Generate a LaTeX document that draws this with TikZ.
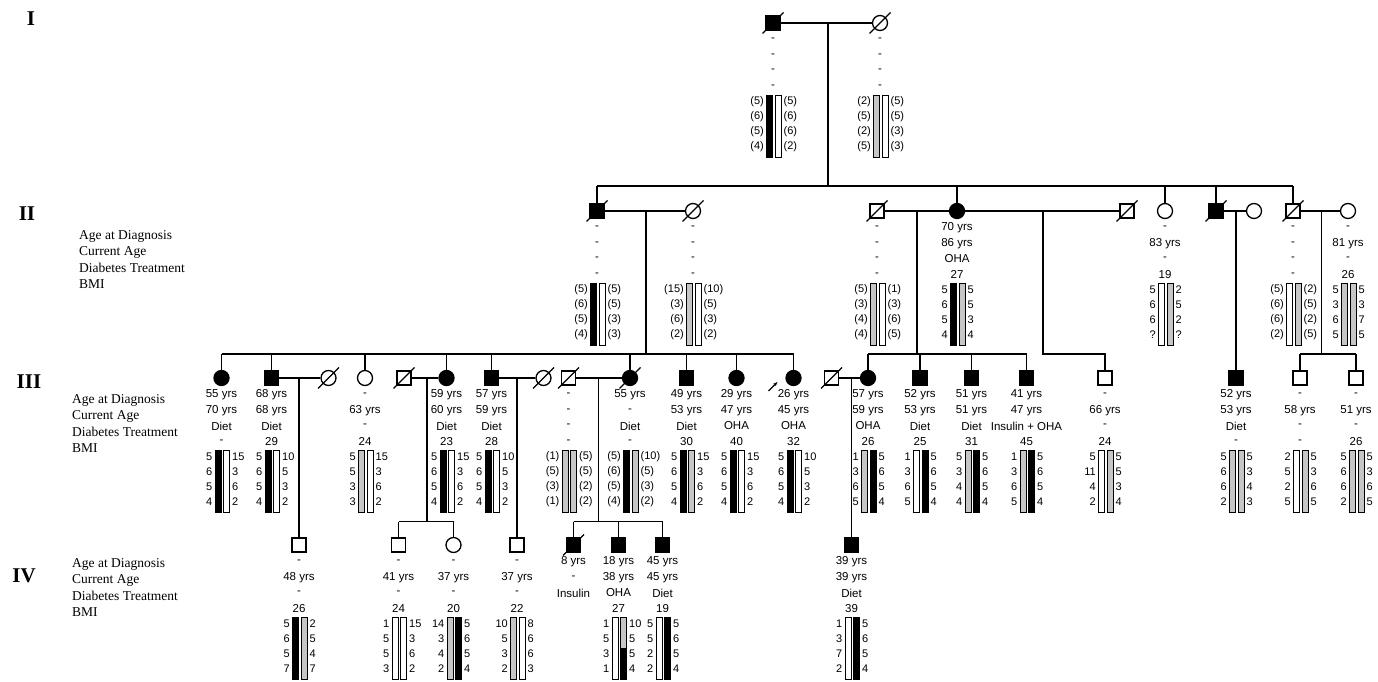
\documentclass[tikz,border=0pt]{standalone}
\usepackage{fontspec}
\setmainfont{Liberation Serif}
\newfontfamily\datafont{Liberation Sans}
\usetikzlibrary{arrows.meta}
\colorlet{hatch}{gray!45}
\tikzset{
  male/.style={draw, rectangle, minimum size=14pt, inner sep=0pt, line width=1.3pt},
  female/.style={draw, circle, minimum size=15pt, inner sep=0pt, line width=1.3pt},
  aff/.style={fill=black},
  dat/.style={font=\datafont\fontsize{11.5}{13}\selectfont, inner sep=0pt},
  num/.style={font=\datafont\fontsize{11}{13}\selectfont, inner sep=0pt},
  bar/.style={draw, line width=0.9pt},
  lab/.style={font=\fontsize{13.5}{15}\selectfont, anchor=west, inner sep=0pt},
  gen/.style={font=\bfseries\fontsize{21}{24}\selectfont, inner sep=0pt},
  link/.style={line width=1.4pt}
}
% slash through a deceased person
\newcommand{\dead}[1]{\draw[line width=1.2pt] ([shift={(-10.5,10.5)}]#1.center) -- ([shift={(10.5,-10.5)}]#1.center);}
% four lines under a symbol
\newcommand{\info}[2]{\foreach \entry [count=\k] in {#2}
  \node[dat] (#1-t\k) at ([shift={(0,{1.5+15.5*\k})}]#1.center) {\entry};}
% pair of haplotype bars with marker values
\newcommand{\hap}[5]{%
  \draw[bar, fill=#2] ([shift={(-6.5,72)}]#1.center) rectangle ([shift={(-0.5,134)}]#1.center);
  \draw[bar, fill=#3] ([shift={(2,72)}]#1.center) rectangle ([shift={(8,134)}]#1.center);
  \foreach \val [count=\k from 0] in {#4}
    \node[num, anchor=east] (#1-l\k) at ([shift={(-9,{79+15*\k})}]#1.center) {\val};
  \foreach \val [count=\k from 0] in {#5}
    \node[num, anchor=west] (#1-r\k) at ([shift={(10.5,{79+15*\k})}]#1.center) {\val};
}

\begin{document}
\begin{tikzpicture}[x=1pt, y=-1pt]
  \useasboundingbox (0,0) rectangle (1378,682);

  % generation labels
  \node[gen] (gI) at (31,19) {I};
  \node[gen] (gII) at (27,214) {II};
  \node[gen] (gIII) at (29,382) {III};
  \node[gen] (gIV) at (24,576) {IV};
  \foreach \g/\x/\y in {II/79/236, III/72/400, IV/72/564} {
    \foreach \s [count=\k from 0] in {Age at Diagnosis, Current Age, Diabetes Treatment, BMI}
      \node[lab] (lab\g\k) at (\x,{\y+16*\k}) {\s};
  }

  % levels of the sibship lines
  \coordinate (sII) at (0,186);
  \coordinate (sIII) at (0,354);
  \coordinate (sIV) at (0,521.5);

  % I
  \node[male, aff] (I1) at (773,23) {};
  \node[female] (I2) at (880,23) {};
  \coordinate (mI) at (828,23);

  % II
  \node[male, aff] (II1) at (597,211) {};
  \node[female] (II2) at (693,211) {};
  \node[male] (II3) at (877,211) {};
  \node[female, aff] (II4) at (957,211) {};
  \node[male] (II5) at (1127,211) {};
  \node[female] (II6) at (1165,211) {};
  \node[male, aff] (II7) at (1216,211) {};
  \node[female] (II8) at (1254,211) {};
  \node[male] (II9) at (1293,211) {};
  \node[female] (II10) at (1348,211) {};
  \coordinate (mII1) at (646,211);
  \coordinate (mII3) at (917,211);
  \coordinate (mII4) at (1043,211);
  \coordinate (mII7) at (1236,211);
  \coordinate (mII9) at (1321.5,211);

  % III
  \node[female, aff] (III1) at (221.5,378) {};
  \node[male, aff] (III2) at (271.5,378) {};
  \node[female] (III3) at (328.5,378) {};
  \node[female] (III4) at (365,378) {};
  \node[male] (III5) at (404,378) {};
  \node[female, aff] (III6) at (446.5,378) {};
  \node[male, aff] (III7) at (491.5,378) {};
  \node[female] (III8) at (543.5,378) {};
  \node[male] (III9) at (568.5,378) {};
  \node[female, aff] (III10) at (630,378) {};
  \node[male, aff] (III11) at (686.5,378) {};
  \node[female, aff] (III12) at (736.5,378) {};
  \node[female, aff] (III13) at (793.5,378) {};
  \node[male] (III14) at (831.5,378) {};
  \node[female, aff] (III15) at (868,378) {};
  \node[male, aff] (III16) at (920,378) {};
  \node[male, aff] (III17) at (971.5,378) {};
  \node[male, aff] (III18) at (1026.5,378) {};
  \node[male] (III19) at (1105,378) {};
  \node[male, aff] (III20) at (1236,378) {};
  \node[male] (III21) at (1300,378) {};
  \node[male] (III22) at (1356,378) {};
  \coordinate (mIII2) at (299,378);
  \coordinate (mIII5) at (427,378);
  \coordinate (mIII7) at (517,378);
  \coordinate (mIII9) at (598.5,378);
  \coordinate (mIII14) at (851.5,378);

  % IV
  \node[male] (IV1) at (299,545) {};
  \node[male] (IV2) at (398.5,545) {};
  \node[female] (IV3) at (453.5,545) {};
  \node[male] (IV4) at (517,545) {};
  \node[male, aff] (IV5) at (573.5,545) {};
  \node[male, aff] (IV6) at (618.5,545) {};
  \node[male, aff] (IV7) at (662.5,545) {};
  \node[male, aff] (IV8) at (851.5,545) {};

  \foreach \p in {I1,I2,II1,II2,II3,II5,II7,II9,III3,III5,III8,III9,III10,III14,IV5} {\dead{\p}}

  % marriages
  \draw[link] (I1) -- (I2);
  \draw[link] (II1) -- (II2);
  \draw[link] (II3) -- (II4);
  \draw[link] (II4) -- (II5);
  \draw[link] (II7) -- (II8);
  \draw[link] (II9) -- (II10);
  \draw[link] (III2) -- (III3);
  \draw[link] (III5) -- (III6);
  \draw[link] (III7) -- (III8);
  \draw[link] (III9) -- (III10);
  \draw[link] (III14) -- (III15);

  % descent
  \draw[link] (mI) -- (mI |- sII);
  \draw[link] (II1 |- sII) -- (II9 |- sII);
  \foreach \c in {II1,II4,II7,II9} {\draw[link] (\c |- sII) -- (\c);}
  \draw[link] (II6 |- sII) -- (II6);
  \draw[link] (mII1) -- (mII1 |- sIII);
  \draw[link] (III1 |- sIII) -- (III13 |- sIII);
  \foreach \c in {III1,III2,III4,III6,III7,III10,III11,III12,III13} {\draw[link] (\c |- sIII) -- (\c);}
  \draw[link] (mII3) -- (mII3 |- sIII);
  \draw[link] (III15 |- sIII) -- (III18 |- sIII);
  \foreach \c in {III15,III16,III17,III18} {\draw[link] (\c |- sIII) -- (\c);}
  \draw[link] (mII4) |- (III19 |- sIII) -- (III19);
  \draw[link] (mII7) -- (III20);
  \draw[link] (mII9) -- (mII9 |- sIII);
  \draw[link] (III21 |- sIII) -- (III22 |- sIII);
  \foreach \c in {III21,III22} {\draw[link] (\c |- sIII) -- (\c);}
  \draw[link] (mIII2) -- (IV1);
  \draw[link] (mIII5) -- (mIII5 |- sIV);
  \draw[link] (IV2 |- sIV) -- (IV3 |- sIV);
  \foreach \c in {IV2,IV3} {\draw[link] (\c |- sIV) -- (\c);}
  \draw[link] (mIII7) -- (IV4);
  \draw[link] (mIII9) -- (mIII9 |- sIV);
  \draw[link] (IV5 |- sIV) -- (IV7 |- sIV);
  \foreach \c in {IV5,IV6,IV7} {\draw[link] (\c |- sIV) -- (\c);}
  \draw[link] (mIII14) -- (IV8);

  % proband
  \coordinate (prb) at ([shift={(-25,13)}]III13.center);
  \draw[-{Stealth[length=4.5pt]}, line width=1.1pt] (prb) -- ([shift={(-16,4)}]III13.center);

  % clinical data
  \info{I1}{-,-,-,-}
  \info{I2}{-,-,-,-}
  \info{II1}{-,-,-,-}
  \info{II2}{-,-,-,-}
  \info{II3}{-,-,-,-}
  \info{II4}{70 yrs,86 yrs,OHA,27}
  \info{II6}{-,83 yrs,-,19}
  \info{II9}{-,-,-,-}
  \info{II10}{-,81 yrs,-,26}
  \info{III1}{55 yrs,70 yrs,Diet,-}
  \info{III2}{68 yrs,68 yrs,Diet,29}
  \info{III4}{-,63 yrs,-,24}
  \info{III6}{59 yrs,60 yrs,Diet,23}
  \info{III7}{57 yrs,59 yrs,Diet,28}
  \info{III9}{-,-,-,-}
  \info{III10}{55 yrs,-,Diet,-}
  \info{III11}{49 yrs,53 yrs,Diet,30}
  \info{III12}{29 yrs,47 yrs,OHA,40}
  \info{III13}{26 yrs,45 yrs,OHA,32}
  \info{III15}{57 yrs,59 yrs,OHA,26}
  \info{III16}{52 yrs,53 yrs,Diet,25}
  \info{III17}{51 yrs,51 yrs,Diet,31}
  \info{III18}{41 yrs,47 yrs,Insulin + OHA,45}
  \info{III19}{-,66 yrs,-,24}
  \info{III20}{52 yrs,53 yrs,Diet,-}
  \info{III21}{-,58 yrs,-,-}
  \info{III22}{-,51 yrs,-,26}
  \info{IV1}{-,48 yrs,-,26}
  \info{IV2}{-,41 yrs,-,24}
  \info{IV3}{-,37 yrs,-,20}
  \info{IV4}{-,37 yrs,-,22}
  \info{IV5}{8 yrs,-,Insulin}
  \info{IV6}{18 yrs,38 yrs,OHA,27}
  \info{IV7}{45 yrs,45 yrs,Diet,19}
  \info{IV8}{39 yrs,39 yrs,Diet,39}

  % haplotypes
  \hap{I1}{black}{white}{(5),(6),(5),(4)}{(5),(6),(6),(2)}
  \hap{I2}{hatch}{white}{(2),(5),(2),(5)}{(5),(5),(3),(3)}
  \hap{II1}{black}{white}{(5),(6),(5),(4)}{(5),(5),(3),(3)}
  \hap{II2}{hatch}{white}{(15),(3),(6),(2)}{(10),(5),(3),(2)}
  \hap{II3}{hatch}{white}{(5),(3),(4),(4)}{(1),(3),(6),(5)}
  \hap{II4}{black}{hatch}{5,6,5,4}{5,5,3,4}
  \hap{II6}{white}{hatch}{5,6,6,?}{2,5,2,?}
  \hap{II9}{white}{hatch}{(5),(6),(6),(2)}{(2),(5),(2),(5)}
  \hap{II10}{hatch}{hatch}{5,3,6,5}{5,3,7,5}
  \hap{III1}{black}{white}{5,6,5,4}{15,3,6,2}
  \hap{III2}{black}{white}{5,6,5,4}{10,5,3,2}
  \hap{III4}{hatch}{white}{5,5,3,3}{15,3,6,2}
  \hap{III6}{black}{white}{5,6,5,4}{15,3,6,2}
  \hap{III7}{black}{white}{5,6,5,4}{10,5,3,2}
  \hap{III9}{hatch}{hatch}{(1),(5),(3),(1)}{(5),(5),(2),(2)}
  \hap{III10}{black}{hatch}{(5),(6),(5),(4)}{(10),(5),(3),(2)}
  \hap{III11}{black}{hatch}{5,6,5,4}{15,3,6,2}
  \hap{III12}{black}{white}{5,6,5,4}{15,3,6,2}
  \hap{III13}{black}{white}{5,6,5,4}{10,5,3,2}
  \hap{III15}{hatch}{black}{1,3,6,5}{5,6,5,4}
  \hap{III16}{white}{black}{1,3,6,5}{5,6,5,4}
  \hap{III17}{hatch}{black}{5,3,4,4}{5,6,5,4}
  \hap{III18}{hatch}{black}{1,3,6,5}{5,6,5,4}
  \hap{III19}{white}{hatch}{5,11,4,2}{5,5,3,4}
  \hap{III20}{hatch}{hatch}{5,6,6,2}{5,3,4,3}
  \hap{III21}{white}{hatch}{2,5,2,5}{5,3,6,5}
  \hap{III22}{hatch}{hatch}{5,6,6,2}{5,3,6,5}
  \hap{IV1}{black}{hatch}{5,6,5,7}{2,5,4,7}
  \hap{IV2}{white}{white}{1,5,5,3}{15,3,6,2}
  \hap{IV3}{hatch}{black}{14,3,4,2}{5,6,5,4}
  \hap{IV4}{hatch}{white}{10,5,3,2}{8,6,6,3}
  \hap{IV6}{white}{hatch}{1,5,3,1}{10,5,5,4}
  \draw[bar, fill=black] ([shift={(2,103)}]IV6.center) rectangle ([shift={(8,134)}]IV6.center);
  \hap{IV7}{white}{black}{5,5,2,2}{5,6,5,4}
  \hap{IV8}{white}{black}{1,3,7,2}{5,6,5,4}
\end{tikzpicture}
\end{document}
